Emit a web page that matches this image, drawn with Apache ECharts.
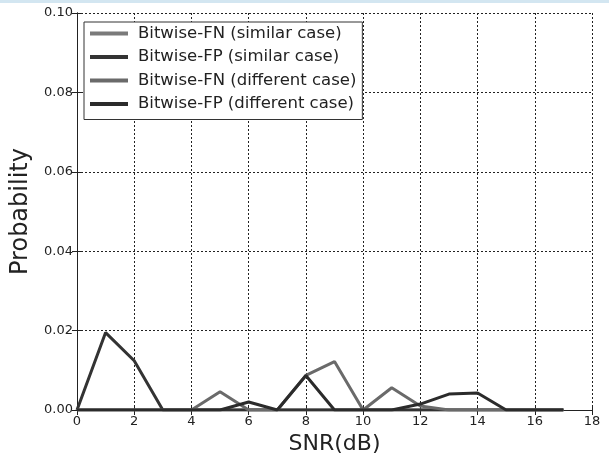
<!DOCTYPE html>
<html>
<head>
<meta charset="utf-8">
<script src="https://cdn.jsdelivr.net/npm/echarts@6/dist/echarts.min.js"></script>
<style>
  html, body { margin: 0; padding: 0; background: #fff; }
  #chart { width: 609px; height: 460px; }
</style>
</head>
<body>
<div id="chart"></div>
<script>
// SNR values (dB)
const snr = [0, 1, 2, 3, 4, 5, 6, 7, 8, 9, 10, 11, 12, 13, 14, 15, 16, 17]

// probabilities
const fnSimilar   = [0, 0, 0, 0, 0, 0, 0, 0, 0, 0, 0, 0, 0, 0, 0, 0, 0, 0]
const fpSimilar   = [0, 0.0195, 0.0124, 0, 0, 0, 0, 0, 0, 0, 0, 0, 0, 0, 0, 0, 0, 0]
const fnDifferent = [0, 0, 0, 0, 0, 0.0046, 0, 0, 0.0087, 0.0122, 0, 0.0056, 0.001, 0, 0, 0, 0, 0]
const fpDifferent = [0, 0, 0, 0, 0, 0, 0.002, 0, 0.0087, 0, 0, 0, 0.0015, 0.004, 0.0043, 0, 0, 0]

const seriesNames = [
  'Bitwise-FN (similar case)',
  'Bitwise-FP (similar case)',
  'Bitwise-FN (different case)',
  'Bitwise-FP (different case)'
]
const seriesColors = ['#7a7a7a', '#333333', '#6a6a6a', '#2b2b2b']
const seriesValues = [fnSimilar, fpSimilar, fnDifferent, fpDifferent]

const font = 'DejaVu Sans'

const chart = echarts.init(document.getElementById('chart'))

const mkSeries = (name, i) => ({
  name: name,
  type: 'line',
  data: snr.map((x, k) => [x, seriesValues[i][k]]),
  showSymbol: false,
  symbol: 'none',
  lineStyle: { color: seriesColors[i], width: 3 },
  itemStyle: { color: seriesColors[i] },
  animation: false,
  z: 3
})

const tickStyle = { show: true, inside: true, length: 5, lineStyle: { color: '#222' } }

chart.setOption({
  backgroundColor: '#fff',
  textStyle: { fontFamily: font },
  grid: { left: 77, right: 17, top: 13, bottom: 50, containLabel: false, outerBoundsMode: 'none' },
  legend: {
    orient: 'vertical',
    left: 84,
    top: 22,
    padding: [3, 6, 7, 6],
    itemGap: 6.5,
    itemWidth: 38,
    itemHeight: 4,
    icon: 'rect',
    backgroundColor: '#fff',
    borderColor: '#333',
    borderWidth: 1,
    borderRadius: 0,
    textStyle: { fontFamily: font, fontSize: 16.5, color: '#222', padding: [0, 0, 0, 5] },
    data: seriesNames
  },
  xAxis: [
    {
      type: 'value',
      min: 0,
      max: 18,
      interval: 2,
      name: 'SNR(dB)',
      nameLocation: 'middle',
      nameGap: 23,
      nameTextStyle: { fontFamily: font, fontSize: 22, color: '#222' },
      axisLine: { show: true, lineStyle: { color: '#222', width: 1 } },
      axisTick: tickStyle,
      axisLabel: { fontFamily: font, fontSize: 13, color: '#222', margin: 5 },
      splitLine: { show: true, lineStyle: { color: '#222', type: [2, 2], width: 1 } }
    },
    {
      type: 'value',
      position: 'top',
      min: 0,
      max: 18,
      interval: 2,
      axisLine: { show: true, lineStyle: { color: '#222', width: 1 } },
      axisTick: tickStyle,
      axisLabel: { show: false },
      splitLine: { show: false }
    }
  ],
  yAxis: [
    {
      type: 'value',
      min: 0,
      max: 0.1,
      interval: 0.02,
      name: 'Probability',
      nameLocation: 'middle',
      nameGap: 44,
      nameTextStyle: { fontFamily: font, fontSize: 24, color: '#222' },
      axisLine: { show: true, lineStyle: { color: '#222', width: 1 } },
      axisTick: tickStyle,
      axisLabel: { fontFamily: font, fontSize: 13, color: '#222', margin: 4, formatter: v => v.toFixed(2) },
      splitLine: { show: true, lineStyle: { color: '#222', type: [2, 2], width: 1 } }
    },
    {
      type: 'value',
      position: 'right',
      min: 0,
      max: 0.1,
      interval: 0.02,
      axisLine: { show: true, lineStyle: { color: '#222', width: 1 } },
      axisTick: tickStyle,
      axisLabel: { show: false },
      splitLine: { show: false }
    }
  ],
  graphic: [
    {
      type: 'rect',
      left: 0,
      top: 0,
      shape: { width: 609, height: 3 },
      style: { fill: '#d3e6f1' },
      silent: true
    }
  ],
  series: seriesNames.map(mkSeries)
})
</script>
</body>
</html>
